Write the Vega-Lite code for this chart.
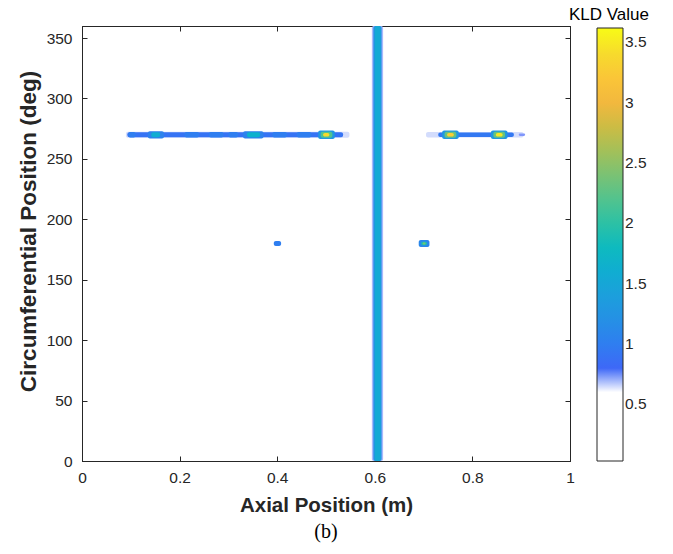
{
  "$schema": "https://vega.github.io/schema/vega-lite/v6.json",
  "width": 488,
  "height": 435,
  "autosize": {"type": "none"},
  "padding": {"left": 82, "top": 26, "right": 103, "bottom": 93},
  "background": "white",
  "title": {"text": "(b)", "orient": "bottom", "font": "Liberation Serif", "fontSize": 20, "fontWeight": "normal", "color": "#000000", "offset": 6, "anchor": "middle"},
  "data": {"values": [
    {"x": 0.594, "x2": 0.617, "y": 0, "y2": 360, "kld": 0.7},
    {"x": 0.597, "x2": 0.614, "y": 0, "y2": 360, "kld": 1.2},
    {"x": 0.600, "x2": 0.612, "y": 0, "y2": 360, "kld": 1.55},
    {"x": 0.090, "x2": 0.548, "y": 267.5, "y2": 272.5, "kld": 0.66},
    {"x": 0.093, "x2": 0.535, "y": 268.0, "y2": 272.0, "kld": 0.9},
    {"x": 0.095, "x2": 0.110, "y": 267.8, "y2": 272.2, "kld": 1.0},
    {"x": 0.210, "x2": 0.240, "y": 267.8, "y2": 272.2, "kld": 1.0},
    {"x": 0.260, "x2": 0.290, "y": 267.8, "y2": 272.2, "kld": 1.0},
    {"x": 0.300, "x2": 0.320, "y": 267.8, "y2": 272.2, "kld": 1.0},
    {"x": 0.390, "x2": 0.420, "y": 267.8, "y2": 272.2, "kld": 1.0},
    {"x": 0.440, "x2": 0.470, "y": 267.8, "y2": 272.2, "kld": 1.0},
    {"x": 0.135, "x2": 0.168, "y": 267.0, "y2": 273.0, "kld": 1.05},
    {"x": 0.142, "x2": 0.160, "y": 268.0, "y2": 272.0, "kld": 1.6},
    {"x": 0.330, "x2": 0.372, "y": 267.0, "y2": 273.0, "kld": 1.05},
    {"x": 0.338, "x2": 0.365, "y": 268.0, "y2": 272.0, "kld": 1.65},
    {"x": 0.484, "x2": 0.518, "y": 266.5, "y2": 273.5, "kld": 1.3},
    {"x": 0.489, "x2": 0.513, "y": 267.5, "y2": 272.5, "kld": 2.2},
    {"x": 0.494, "x2": 0.507, "y": 268.5, "y2": 271.5, "kld": 3.4},
    {"x": 0.705, "x2": 0.905, "y": 267.7, "y2": 272.3, "kld": 0.66},
    {"x": 0.730, "x2": 0.885, "y": 268.2, "y2": 271.8, "kld": 0.95},
    {"x": 0.738, "x2": 0.772, "y": 266.5, "y2": 273.5, "kld": 1.3},
    {"x": 0.743, "x2": 0.767, "y": 267.5, "y2": 272.5, "kld": 2.3},
    {"x": 0.748, "x2": 0.762, "y": 268.5, "y2": 271.5, "kld": 3.3},
    {"x": 0.838, "x2": 0.872, "y": 266.5, "y2": 273.5, "kld": 1.3},
    {"x": 0.843, "x2": 0.867, "y": 267.5, "y2": 272.5, "kld": 2.3},
    {"x": 0.848, "x2": 0.862, "y": 268.5, "y2": 271.5, "kld": 3.5},
    {"x": 0.895, "x2": 0.908, "y": 269.0, "y2": 271.0, "kld": 0.75},
    {"x": 0.393, "x2": 0.408, "y": 178.0, "y2": 182.0, "kld": 1.0},
    {"x": 0.690, "x2": 0.712, "y": 177.2, "y2": 182.8, "kld": 1.1},
    {"x": 0.695, "x2": 0.707, "y": 178.5, "y2": 181.5, "kld": 1.9},
    {"x": 0.698, "x2": 0.704, "y": 179.2, "y2": 180.8, "kld": 2.4}
  ]},
  "layer": [
    {
      "mark": {"type": "rect", "cornerRadius": 2},
      "encoding": {
        "x": {"field": "x", "type": "quantitative", "scale": {"domain": [0, 1], "nice": false},
              "axis": {"values": [0, 0.2, 0.4, 0.6, 0.8, 1], "format": "~g", "title": "Axial Position (m)", "orient": "bottom", "labelPadding": 14, "titlePadding": 10, "titleFontSize": 20.5}},
        "x2": {"field": "x2"},
        "y": {"field": "y", "type": "quantitative", "scale": {"domain": [0, 360], "nice": false},
              "axis": {"values": [0, 50, 100, 150, 200, 250, 300, 350], "title": "Circumferential Position (deg)", "orient": "left", "labelPadding": 15, "titlePadding": 6, "titleFontSize": 22.5, "titleY": 205}},
        "y2": {"field": "y2"},
        "color": {"field": "kld", "type": "quantitative",
          "scale": {"type": "linear", "interpolate": "rgb", "clamp": true, "zero": false,
            "domain": [0.03, 0.615, 0.625, 0.675, 0.685, 0.715, 0.725, 0.775, 0.785, 1.0, 1.25, 1.5, 1.75, 2.0, 2.25, 2.5, 2.75, 3.0, 3.25, 3.5, 3.62],
            "range": ["#ffffff", "#ffffff", "#d3dcfc", "#d3dcfc", "#aab8fb", "#aab8fb", "#8096fb", "#8096fb", "#3f66f8", "#2f7ef0", "#2394e2", "#17a6d8", "#06b8c6", "#2cc1a5", "#5cc388", "#8ec267", "#c2bd45", "#f2b83e", "#fcc837", "#f4e626", "#f9fb15"]},
          "legend": {"title": "KLD Value", "values": [0.5, 1, 1.5, 2, 2.5, 3, 3.5], "format": "~g", "tickCount": 180,
                     "encoding": {"title": {"dx": {"value": 12}, "align": {"value": "center"}}}}}
      }
    },
    {
      "mark": {"type": "rect", "opacity": 0},
      "encoding": {
        "x": {"field": "x", "type": "quantitative", "axis": {"orient": "top", "labels": false, "title": null, "values": [0, 0.2, 0.4, 0.6, 0.8, 1]}},
        "y": {"field": "y", "type": "quantitative", "axis": {"orient": "right", "labels": false, "title": null, "values": [0, 50, 100, 150, 200, 250, 300, 350]}}
      }
    }
  ],
  "resolve": {"axis": {"x": "independent", "y": "independent"}},
  "config": {
    "view": {"stroke": "#262626", "strokeWidth": 1},
    "axis": {"labelFont": "Liberation Sans", "labelFontSize": 15.5, "labelColor": "#262626", "labelFlush": false, "titleFont": "Liberation Sans", "titleFontSize": 21, "titleFontWeight": "bold", "titleColor": "#262626", "tickColor": "#262626", "domainColor": "#262626", "grid": false, "tickSize": -5},
    "legend": {"orient": "none", "legendX": 487, "legendY": -19, "padding": 0, "gradientLength": 433, "gradientThickness": 26, "gradientStrokeColor": "#262626", "gradientStrokeWidth": 1, "labelFont": "Liberation Sans", "labelFontSize": 15.5, "labelColor": "#262626", "labelOffset": 6, "labelOverlap": false, "titleFont": "Liberation Sans", "titleFontSize": 17, "titleFontWeight": "normal", "titleColor": "#000000", "titlePadding": 4, "direction": "vertical"}
  }
}
